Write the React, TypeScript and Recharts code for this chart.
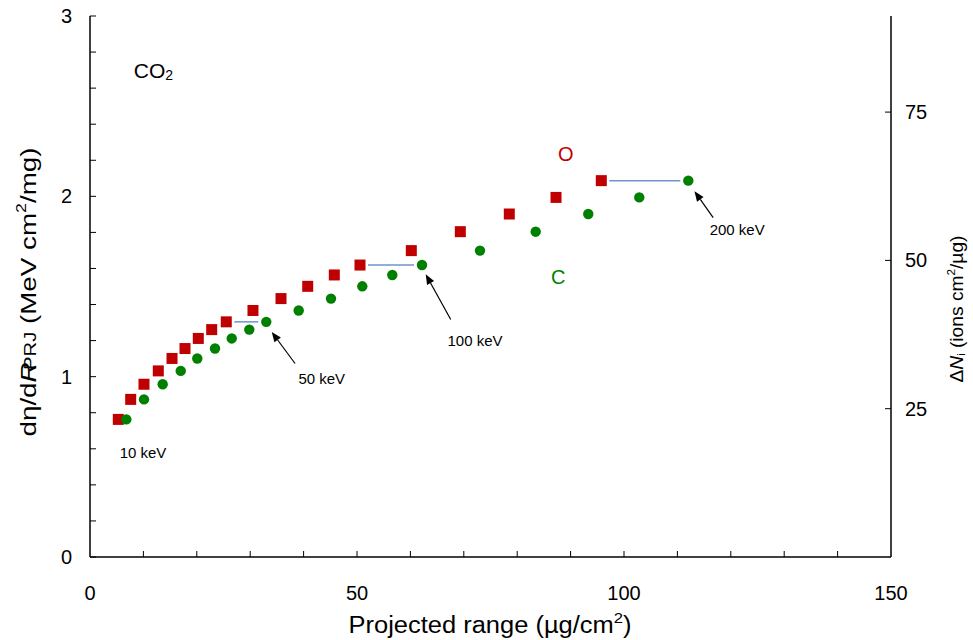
import React from 'react';
import {
  ScatterChart,
  Scatter,
  XAxis,
  YAxis,
  ReferenceLine,
  ReferenceDot,
} from 'recharts';

// Ion energies (keV) for each data point
const energies = [10, 15, 20, 25, 30, 35, 40, 45, 50, 60, 70, 80, 90, 100, 120, 140, 160, 180, 200];
// dη/dR_PRJ (MeV cm²/mg)
const stopping = [0.763, 0.874, 0.958, 1.032, 1.101, 1.156, 1.212, 1.261, 1.304, 1.367, 1.433, 1.501, 1.564, 1.619, 1.699, 1.804, 1.902, 1.994, 2.087];
// Projected range (µg/cm²) for O and C
const rangeO = [5.3, 7.62, 10.11, 12.79, 15.36, 17.79, 20.28, 22.79, 25.52, 30.52, 35.77, 40.77, 45.75, 50.56, 60.17, 69.35, 78.52, 87.27, 95.75];
const rangeC = [6.8, 10.11, 13.61, 16.99, 20.09, 23.41, 26.54, 29.83, 33.01, 39.08, 45.13, 50.99, 56.61, 62.17, 73.03, 83.46, 93.31, 102.86, 112.04];

// energies marked with connector + arrow
const markedEnergies = [50, 100, 200];
const arrowTails = [
  { x: 38.4, y: 1.073 },
  { x: 67.55, y: 1.317 },
  { x: 116.7, y: 1.882 },
];
const arrowTips = [
  { x: 34.03, y: 1.248 },
  { x: 62.87, y: 1.568 },
  { x: 113.2, y: 2.028 },
];
const arrowLabels = ['50 keV', '100 keV', '200 keV'];
const arrowLabelPos = [
  { x: 43.4, y: 0.99 },
  { x: 72.1, y: 1.202 },
  { x: 121.2, y: 1.816 },
];
const firstLabel = { text: '10 keV', x: 9.93, y: 0.58 };
const seriesLabels = [
  { text: 'O', x: 89.1, y: 2.237, color: '#c00000' },
  { text: 'C', x: 87.7, y: 1.553, color: '#008000' },
];
const titlePos = { x: 8.2, y: 2.7 };

const xTicks = [0, 10, 20, 30, 40, 50, 60, 70, 80, 90, 100, 110, 120, 130, 140, 150];
const xLabelTicks = [0, 50, 100, 150];
const yTicks = [0, 0.2, 0.4, 0.6, 0.8, 1, 1.2, 1.4, 1.6, 1.8, 2, 2.2, 2.4, 2.6, 2.8, 3];
const yLabelTicks = [0, 1, 2, 3];
const rightTicks = [25, 50, 75];

const dataO = rangeO.map((x, i) => ({ x, y: stopping[i], e: energies[i] }));
const dataC = rangeC.map((x, i) => ({ x, y: stopping[i], e: energies[i] }));

const FONT = '"Liberation Sans", Arial, sans-serif';

const LeftTick = (p: any) => {
  const v = p.payload.value;
  const major = yLabelTicks.some((t) => Math.abs(t - v) < 1e-6);
  return (
    <g>
      <line x1={p.x} x2={p.x + 6} y1={p.y} y2={p.y} stroke="#000" strokeWidth={1} />
      {major && (
        <text x={p.x - 18} y={p.y} textAnchor="end" dominantBaseline="central" fontSize={20} fontFamily={FONT} fill="#000">
          {v}
        </text>
      )}
    </g>
  );
};

const BottomTick = (p: any) => {
  const v = p.payload.value;
  const major = xLabelTicks.includes(v);
  return (
    <g>
      {v !== 0 && v !== 150 && <line x1={p.x} x2={p.x} y1={p.y} y2={p.y - 6} stroke="#000" strokeWidth={1} />}
      {major && (
        <text x={p.x} y={p.y + 36} textAnchor="middle" dominantBaseline="central" fontSize={20} fontFamily={FONT} fill="#000">
          {v}
        </text>
      )}
    </g>
  );
};

const RightTick = (p: any) => (
  <g>
    <line x1={p.x} x2={p.x - 6} y1={p.y} y2={p.y} stroke="#000" strokeWidth={1} />
    <text x={p.x + 14} y={p.y} textAnchor="start" dominantBaseline="central" fontSize={20} fontFamily={FONT} fill="#000">
      {p.payload.value}
    </text>
  </g>
);

const Square = (p: any) => <rect x={p.cx - 5.5} y={p.cy - 5.5} width={11} height={11} fill="#c00000" />;
const Dot = (p: any) => <circle cx={p.cx} cy={p.cy} r={5.2} fill="#008000" />;

const Connector = (p: any) => {
  const x1 = Math.min(p.x1, p.x2) + 8;
  const x2 = Math.max(p.x1, p.x2) - 8;
  return <line x1={x1} x2={x2} y1={p.y1} y2={p.y2} stroke="#6f93cf" strokeWidth={1.5} />;
};

const Arrow = (p: any) => {
  const { x1, y1, x2, y2 } = p;
  const dx = x2 - x1;
  const dy = y2 - y1;
  const len = Math.sqrt(dx * dx + dy * dy) || 1;
  const ux = dx / len;
  const uy = dy / len;
  const hl = 10;
  const hw = 4;
  const bx = x2 - ux * hl;
  const by = y2 - uy * hl;
  const pts = `${x2},${y2} ${bx - uy * hw},${by + ux * hw} ${bx + uy * hw},${by - ux * hw}`;
  return (
    <g>
      <line x1={x1} y1={y1} x2={bx} y2={by} stroke="#000" strokeWidth={1.2} />
      <polygon points={pts} fill="#000" />
    </g>
  );
};

const textShape = (text: string, size: number, color: string) => (p: any) => (
  <text x={p.cx} y={p.cy} textAnchor="middle" dominantBaseline="central" fontSize={size} fontFamily={FONT} fill={color}>
    {text}
  </text>
);

const TitleShape = (p: any) => (
  <text x={p.cx} y={p.cy} textAnchor="start" dominantBaseline="central" fontSize={21} fontFamily={FONT} fill="#000">
    CO
    <tspan fontSize={14} dy={5}>2</tspan>
  </text>
);

export default function App() {
  return (
    <div style={{ position: 'absolute', left: 0, top: 0, width: 973, height: 640, background: '#fff' }}>
      <ScatterChart width={973} height={640} margin={{ top: 16, right: 0, bottom: 0, left: 0 }}>
        <XAxis
          xAxisId="x"
          type="number"
          dataKey="x"
          domain={[0, 150]}
          ticks={xTicks}
          interval={0}
          height={83}
          tickSize={0}
          tickMargin={0}
          tickLine={false}
          tick={<BottomTick />}
          axisLine={{ stroke: '#000', strokeWidth: 1.5 }}
          allowDataOverflow
        />
        <XAxis
          xAxisId="top"
          type="number"
          orientation="top"
          domain={[0, 150]}
          height={0}
          tick={false}
          tickLine={false}
          axisLine={{ stroke: '#000', strokeWidth: 1.5 }}
        />
        <YAxis
          yAxisId="left"
          type="number"
          dataKey="y"
          domain={[0, 3]}
          ticks={yTicks}
          interval={0}
          width={90}
          tickSize={0}
          tickMargin={0}
          tickLine={false}
          tick={<LeftTick />}
          axisLine={{ stroke: '#000', strokeWidth: 1.5 }}
          allowDataOverflow
        />
        <YAxis
          yAxisId="right"
          orientation="right"
          type="number"
          domain={[0, 91.2]}
          ticks={rightTicks}
          interval={0}
          width={82}
          tickSize={0}
          tickMargin={0}
          tickLine={false}
          tick={<RightTick />}
          axisLine={{ stroke: '#000', strokeWidth: 1.5 }}
          allowDataOverflow
        />

        {markedEnergies.map((e) => {
          const i = energies.indexOf(e);
          return (
            <ReferenceLine
              key={'c' + e}
              xAxisId="x"
              yAxisId="left"
              segment={[
                { x: rangeO[i], y: stopping[i] },
                { x: rangeC[i], y: stopping[i] },
              ]}
              shape={Connector}
              ifOverflow="visible"
            />
          );
        })}

        <Scatter xAxisId="x" yAxisId="left" data={dataO} shape={Square} isAnimationActive={false} />
        <Scatter xAxisId="x" yAxisId="left" data={dataC} shape={Dot} isAnimationActive={false} />

        {arrowTails.map((t, i) => (
          <ReferenceLine
            key={'a' + i}
            xAxisId="x"
            yAxisId="left"
            segment={[t, arrowTips[i]]}
            shape={Arrow}
            ifOverflow="visible"
          />
        ))}
        {arrowLabels.map((l, i) => (
          <ReferenceDot
            key={'l' + i}
            xAxisId="x"
            yAxisId="left"
            x={arrowLabelPos[i].x}
            y={arrowLabelPos[i].y}
            r={0}
            shape={textShape(l, 15, '#000')}
            ifOverflow="visible"
          />
        ))}
        <ReferenceDot
          xAxisId="x"
          yAxisId="left"
          x={firstLabel.x}
          y={firstLabel.y}
          r={0}
          shape={textShape(firstLabel.text, 15, '#000')}
          ifOverflow="visible"
        />
        {seriesLabels.map((s) => (
          <ReferenceDot
            key={s.text}
            xAxisId="x"
            yAxisId="left"
            x={s.x}
            y={s.y}
            r={0}
            shape={textShape(s.text, 20, s.color)}
            ifOverflow="visible"
          />
        ))}
        <ReferenceDot xAxisId="x" yAxisId="left" x={titlePos.x} y={titlePos.y} r={0} shape={TitleShape} ifOverflow="visible" />
      </ScatterChart>

      <svg width={973} height={640} style={{ position: 'absolute', left: 0, top: 0, pointerEvents: 'none' }}>
        <text
          x={490}
          y={625}
          textAnchor="middle"
          dominantBaseline="central"
          fontSize={23}
          fontFamily={FONT}
          fill="#000"
          textLength={283}
          lengthAdjust="spacingAndGlyphs"
        >
          Projected range (µg/cm
          <tspan fontSize={15} dy={-8}>2</tspan>
          <tspan dy={8}>)</tspan>
        </text>
        <text
          transform="translate(28,292) rotate(-90)"
          textAnchor="middle"
          dominantBaseline="central"
          fontSize={22}
          fontFamily={FONT}
          fill="#000"
          textLength={289}
          lengthAdjust="spacingAndGlyphs"
        >
          dη/d
          <tspan fontStyle="italic">R</tspan>
          <tspan fontSize={16} dx={-6} dy={2}>PRJ</tspan>
          <tspan dy={-2}> (MeV cm</tspan>
          <tspan fontSize={14} dy={-7}>2</tspan>
          <tspan dy={7}>/mg)</tspan>
        </text>
        <text
          transform="translate(957,309) rotate(-90)"
          textAnchor="middle"
          dominantBaseline="central"
          fontSize={18}
          fontFamily={FONT}
          fill="#000"
          textLength={147}
          lengthAdjust="spacingAndGlyphs"
        >
          Δ
          <tspan fontStyle="italic">N</tspan>
          <tspan fontSize={10} dy={4}>i</tspan>
          <tspan dy={-4}>  (ions cm</tspan>
          <tspan fontSize={11} dy={-6}>2</tspan>
          <tspan dy={6}>/µg)</tspan>
        </text>
      </svg>
    </div>
  );
}
